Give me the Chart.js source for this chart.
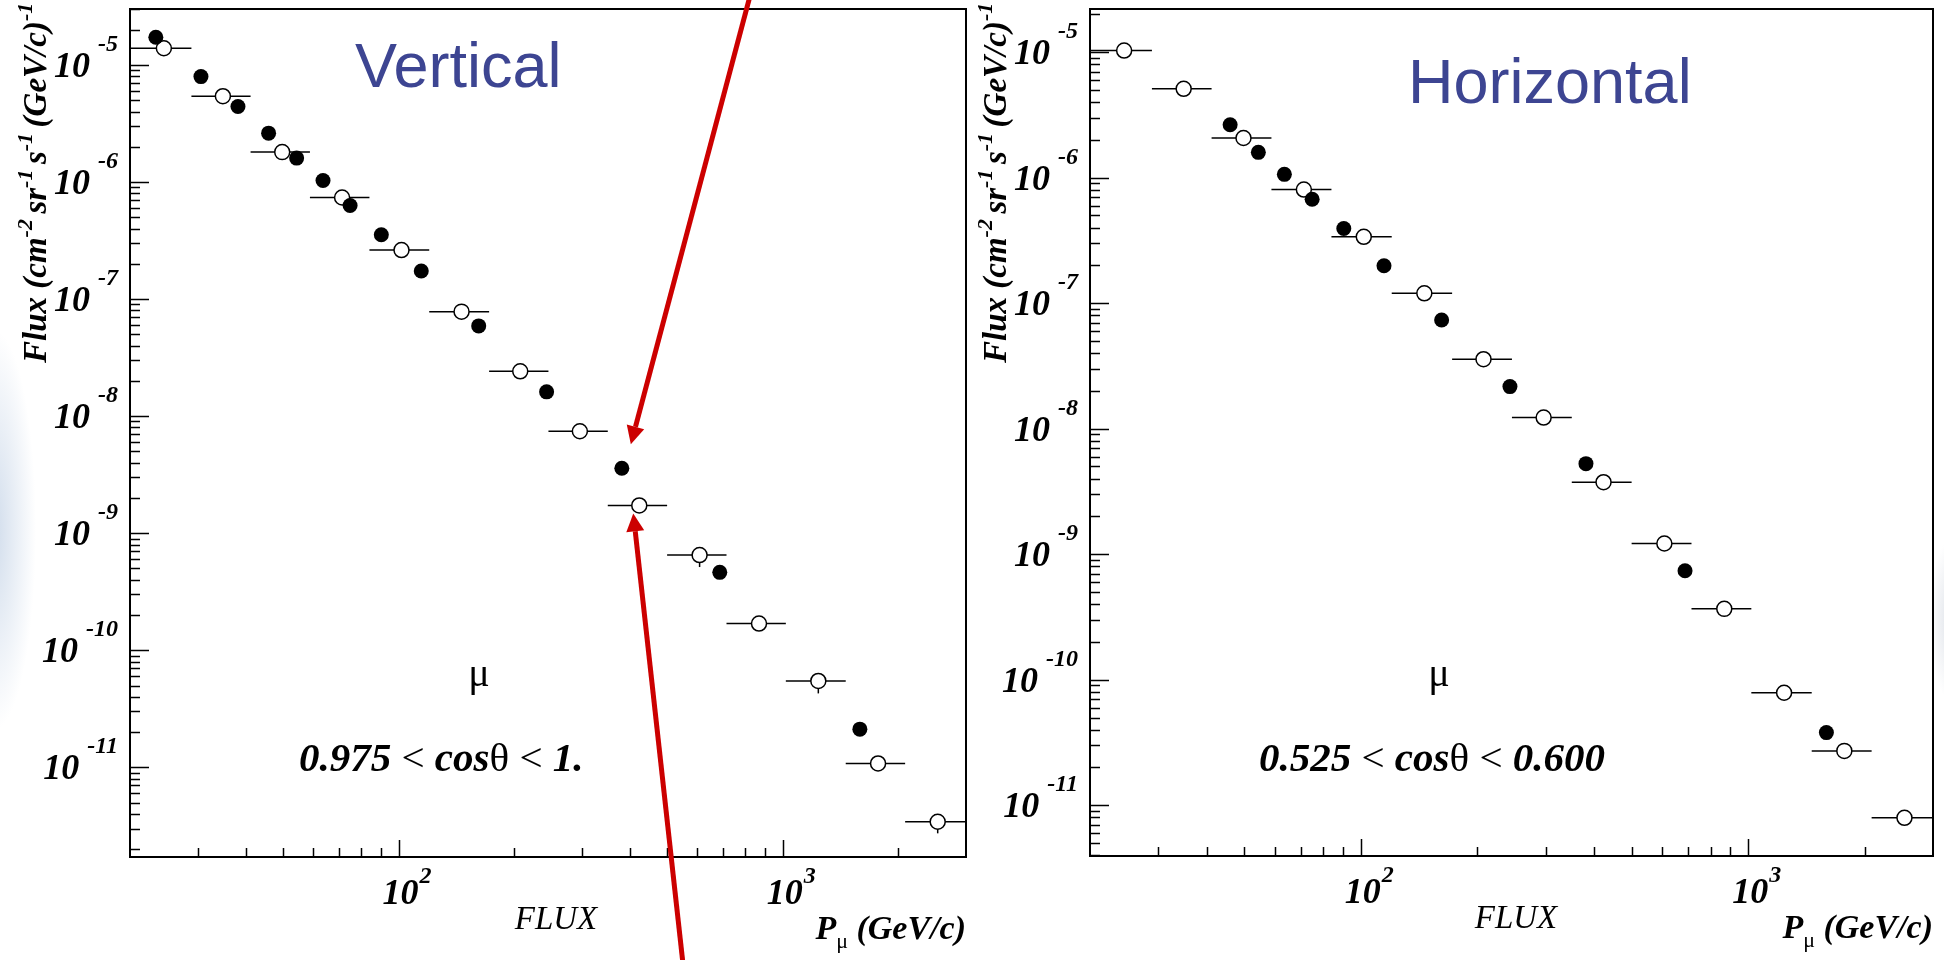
<!DOCTYPE html>
<html>
<head>
<meta charset="utf-8">
<script src="https://cdn.jsdelivr.net/npm/chart.js@4.4.1/dist/chart.umd.min.js"></script>
<style>
  html, body { margin: 0; padding: 0; }
  body {
    width: 1944px; height: 960px; position: relative; overflow: hidden;
    background:
      radial-gradient(ellipse 42px 200px at -6px 530px, rgba(200,214,232,0.85), rgba(255,255,255,0)),
      radial-gradient(ellipse 20px 80px at 1950px 620px, rgba(215,220,228,0.8), rgba(255,255,255,0)),
      #fff;
  }
  canvas { position: absolute; top: 0; }
  #vertical { left: 0; }
  #horizontal { left: 975px; }
</style>
</head>
<body>
<canvas id="vertical" width="975" height="960"></canvas>
<canvas id="horizontal" width="969" height="960"></canvas>
<script>
// momentum bins (GeV/c) shared by both histograms
const binEdges = [20, 28.9, 41.2, 58.8, 84.0, 120.2, 172.1, 245.6, 350.5, 500.2, 714, 1019, 1459, 2083, 3000];
const binCenters = [24.5, 34.9, 49.8, 71.3, 101.8, 145.9, 207.4, 296.5, 423.3, 607.7, 867.6, 1238, 1771, 2532];

// vertical: 0.975 < cos(theta) < 1
const vertOpenFlux = [1.388e-5, 5.41e-6, 1.80e-6, 7.37e-7, 2.62e-7, 7.81e-8, 2.415e-8, 7.43e-9, 1.727e-9, 6.50e-10, 1.69e-10, 5.47e-11, 1.08e-11, 3.43e-12];
const vertOpenLow = [null, null, null, null, null, null, null, null, null, 5.14e-10, null, 4.28e-11, null, 2.73e-12];
const vertDotP = [23.35, 30.6, 38.2, 45.9, 54.3, 63.6, 74.8, 90.2, 114.6, 161.7, 242.9, 381.3, 685.8, 1588];
const vertDotFlux = [1.722e-5, 7.95e-6, 4.41e-6, 2.614e-6, 1.60e-6, 1.03e-6, 6.30e-7, 3.54e-7, 1.737e-7, 5.90e-8, 1.612e-8, 3.59e-9, 4.63e-10, 2.12e-11];

// horizontal: 0.525 < cos(theta) < 0.600
const horzOpenFlux = [1.03e-5, 5.11e-6, 2.072e-6, 8.04e-7, 3.38e-7, 1.199e-7, 3.58e-8, 1.227e-8, 3.75e-9, 1.218e-9, 3.67e-10, 7.88e-11, 2.71e-11, 7.94e-12];
const horzOpenLow = [null, null, null, null, null, null, null, null, null, null, null, null, null, null];
const horzDotP = [46.0, 54.4, 63.5, 74.9, 90.4, 114.8, 161.7, 242.7, 381.3, 687.1, 1592];
const horzDotFlux = [2.643e-6, 1.592e-6, 1.064e-6, 6.73e-7, 3.94e-7, 1.99e-7, 7.35e-8, 2.165e-8, 5.27e-9, 7.39e-10, 3.79e-11];

// axis decades that get a 10^n label
const yDecades = [-5, -6, -7, -8, -9, -10, -11];
const xDecades = [2, 3];

const serif = '"Liberation Serif", "Times New Roman", serif';
const bi = s => `italic bold ${s}px ${serif}`;
const it = s => `italic ${s}px ${serif}`;
const rm = s => `${s}px ${serif}`;

function runWidth(ctx, runs) {
  let w = 0;
  for (const [t, f] of runs) { ctx.font = f; w += ctx.measureText(t).width; }
  return w;
}
function drawRun(ctx, runs, x, y) {
  for (const [t, f, dy] of runs) {
    ctx.font = f;
    ctx.fillText(t, x, y + (dy || 0));
    x += ctx.measureText(t).width;
  }
}

const panels = {
  vertical: {
    low: vertOpenLow,
    title: 'Vertical', titleX: 355, titleY: 87,
    cut: [['0.975 ', bi(41)], ['<', rm(41)], [' cos', bi(41)], ['θ', rm(41)], [' < ', rm(41)], ['1.', bi(41)]],
    arrows: true
  },
  horizontal: {
    low: horzOpenLow,
    title: 'Horizontal', titleX: 433, titleY: 103,
    cut: [['0.525 ', bi(41)], ['<', rm(41)], [' cos', bi(41)], ['θ', rm(41)], [' < ', rm(41)], ['0.600', bi(41)]],
    arrows: false
  }
};

function drawArrow(ctx, x0, y0, x1, y1) {
  const len = Math.hypot(x1 - x0, y1 - y0);
  const ux = (x1 - x0) / len, uy = (y1 - y0) / len;
  const head = 18, half = 9;
  ctx.beginPath();
  ctx.moveTo(x0, y0);
  ctx.lineTo(x1 - ux * head, y1 - uy * head);
  ctx.stroke();
  ctx.beginPath();
  ctx.moveTo(x1, y1);
  ctx.lineTo(x1 - ux * head - uy * half, y1 - uy * head + ux * half);
  ctx.lineTo(x1 - ux * head + uy * half, y1 - uy * head - ux * half);
  ctx.closePath();
  ctx.fill();
}

// ROOT-like frame: inward ticks, 10^n labels, bin error bars, captions
const rootFrame = {
  id: 'rootFrame',
  beforeDatasetsDraw(chart) {
    const p = panels[chart.canvas.id];
    const { ctx, chartArea: a, scales: { x, y } } = chart;
    const open = chart.data.datasets[0].data;
    ctx.save();
    ctx.strokeStyle = '#000';
    ctx.lineWidth = 1.5;
    open.forEach((pt, i) => {
      const py = y.getPixelForValue(pt.y);
      ctx.beginPath();
      ctx.moveTo(x.getPixelForValue(binEdges[i]), py);
      ctx.lineTo(x.getPixelForValue(binEdges[i + 1]), py);
      ctx.stroke();
      if (p.low[i]) {
        ctx.beginPath();
        ctx.moveTo(x.getPixelForValue(pt.x), py);
        ctx.lineTo(x.getPixelForValue(pt.x), y.getPixelForValue(p.low[i]));
        ctx.stroke();
      }
    });

    // frame
    ctx.lineWidth = 2;
    ctx.strokeRect(a.left, a.top, a.right - a.left, a.bottom - a.top);

    // y ticks
    ctx.lineWidth = 1.5;
    ctx.beginPath();
    for (let k = -12; k <= -4; k++) {
      for (let m = 1; m <= 9; m++) {
        const v = m * Math.pow(10, k);
        if (v < y.min || v > y.max) continue;
        const py = Math.round(y.getPixelForValue(v)) + 0.5;
        ctx.moveTo(a.left, py);
        ctx.lineTo(a.left + (m === 1 ? 19 : 10), py);
      }
    }
    // x ticks
    for (let k = 1; k <= 3; k++) {
      for (let m = 1; m <= 9; m++) {
        const v = m * Math.pow(10, k);
        if (v <= x.min || v >= x.max) continue;
        const px = Math.round(x.getPixelForValue(v)) + 0.5;
        ctx.moveTo(px, a.bottom);
        ctx.lineTo(px, a.bottom - (m === 1 ? 17 : 9));
      }
    }
    ctx.stroke();
    ctx.restore();
  },
  afterDraw(chart) {
    const p = panels[chart.canvas.id];
    const { ctx, chartArea: a, scales: { x, y } } = chart;
    ctx.save();
    ctx.fillStyle = '#000';
    ctx.textBaseline = 'alphabetic';

    // y labels 10^n
    yDecades.forEach(k => {
      const py = y.getPixelForValue(Math.pow(10, k));
      const exp = String(k);
      ctx.font = bi(24);
      const ew = ctx.measureText(exp).width;
      ctx.textAlign = 'right';
      ctx.fillText(exp, a.left - 12, py - 14);
      ctx.font = bi(36);
      ctx.fillText('10', a.left - 12 - ew - 8, py + 12);
    });

    // x labels 10^n
    xDecades.forEach(k => {
      const px = x.getPixelForValue(Math.pow(10, k));
      ctx.font = bi(36);
      const w = ctx.measureText('10').width;
      ctx.textAlign = 'center';
      ctx.fillText('10', px + 2, a.bottom + 47);
      ctx.font = bi(24);
      ctx.textAlign = 'left';
      ctx.fillText(String(k), px + 2 + w / 2 + 1, a.bottom + 26);
    });

    // axis titles
    ctx.textAlign = 'left';
    ctx.font = it(33);
    const fw = ctx.measureText('FLUX').width;
    ctx.fillText('FLUX', a.left + 426 - fw / 2, a.bottom + 72);

    const pRun = [['P', bi(34)], ['μ', rm(22), 9], [' (GeV/c)', bi(34)]];
    drawRun(ctx, pRun, a.right - runWidth(ctx, pRun), a.bottom + 82);

    ctx.save();
    ctx.translate(a.left - 84, 363);
    ctx.rotate(-Math.PI / 2);
    drawRun(ctx, [
      ['Flux (cm', bi(33)], ['-2 ', bi(22), -14], ['sr', bi(33)], ['-1 ', bi(22), -14],
      ['s', bi(33)], ['-1 ', bi(22), -14], ['(GeV/c)', bi(33)], ['-1 ', bi(22), -14], [')', bi(33)]
    ], 0, 0);
    ctx.restore();

    // captions inside the frame
    ctx.font = rm(40);
    ctx.textAlign = 'center';
    ctx.fillText('μ', a.left + 349, 686);
    ctx.textAlign = 'left';
    drawRun(ctx, p.cut, a.left + 169, 771);

    // panel title
    ctx.font = '63px "Liberation Sans", Arial, sans-serif';
    ctx.fillStyle = '#3d4592';
    ctx.fillText(p.title, p.titleX, p.titleY);

    if (p.arrows) {
      // red pointers at the 10^2.6 GeV/c region
      const dot = chart.data.datasets[1].data[11];
      const ring = chart.data.datasets[0].data[8];
      ctx.strokeStyle = '#cc0000';
      ctx.fillStyle = '#cc0000';
      ctx.lineWidth = 5;
      drawArrow(ctx, 750, -4, x.getPixelForValue(dot.x) + 9, y.getPixelForValue(dot.y) - 24);
      drawArrow(ctx, 683, 964, x.getPixelForValue(ring.x) - 6, y.getPixelForValue(ring.y) + 8);
    }
    ctx.restore();
  }
};

function makePanel(id, openFlux, dotP, dotFlux, yMin, yMax, padding) {
  return new Chart(document.getElementById(id), {
    type: 'scatter',
    data: {
      datasets: [
        {
          data: binCenters.map((p, i) => ({ x: p, y: openFlux[i] })),
          pointRadius: 7.5,
          pointBackgroundColor: '#fff',
          pointBorderColor: '#000',
          pointBorderWidth: 1.5,
          order: 1
        },
        {
          data: dotP.map((p, i) => ({ x: p, y: dotFlux[i] })),
          pointRadius: 7.5,
          pointBackgroundColor: '#000',
          pointBorderColor: '#000',
          pointBorderWidth: 0,
          order: 0
        }
      ]
    },
    options: {
      responsive: false,
      animation: false,
      events: [],
      layout: { padding },
      plugins: { legend: { display: false }, tooltip: { enabled: false } },
      scales: {
        x: { type: 'logarithmic', min: 20, max: 3000, display: false },
        y: { type: 'logarithmic', min: yMin, max: yMax, display: false }
      }
    },
    plugins: [rootFrame]
  });
}

makePanel('vertical', vertOpenFlux, vertDotP, vertDotFlux, 1.714e-12, 3.005e-5,
  { left: 130, top: 8, right: 2, bottom: 103 });
makePanel('horizontal', horzOpenFlux, horzDotP, horzDotFlux, 3.94e-12, 2.209e-5,
  { left: 115, top: 7, right: 11, bottom: 104 });
</script>
</body>
</html>
